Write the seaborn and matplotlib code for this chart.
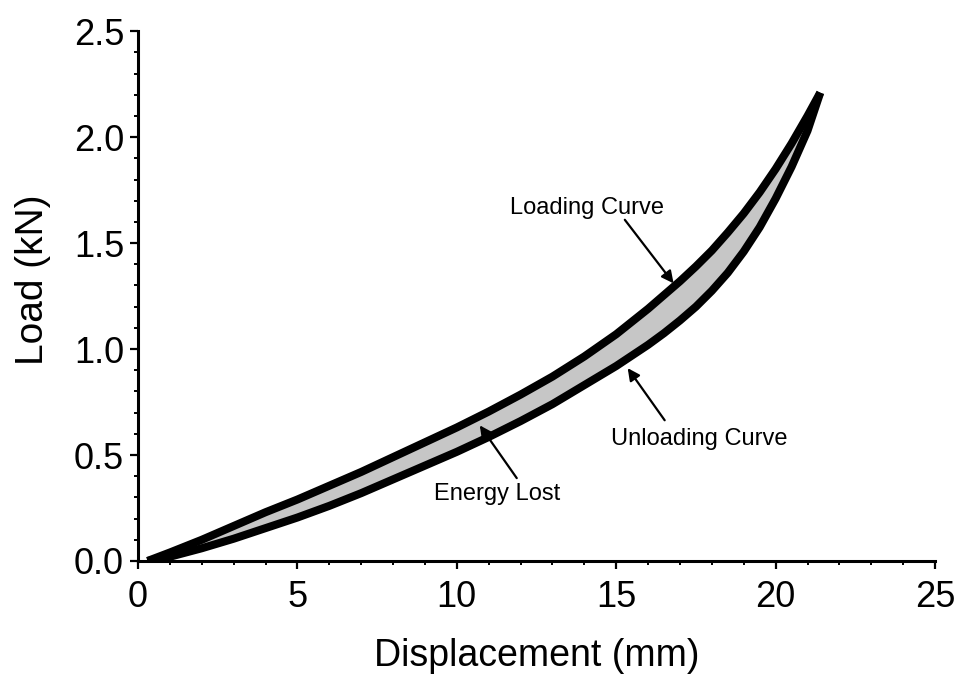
import numpy as np
import pandas as pd
import matplotlib
matplotlib.use("Agg")
import matplotlib.pyplot as plt
import seaborn as sns
from matplotlib.ticker import MultipleLocator

# Displacement (mm) and load (kN) along the loading and unloading paths
load_disp = [0.3, 1.0, 2.0, 3.0, 4.0, 5.0, 6.0, 7.0, 8.0, 9.0, 10.0, 11.0, 12.0, 13.0, 14.0,
             15.0, 15.5, 16.0, 16.5, 17.0, 17.5, 18.0, 18.5, 19.0, 19.5, 20.0, 20.5, 21.0, 21.4]
load_force = [0.00, 0.04, 0.10, 0.165, 0.23, 0.29, 0.355, 0.42, 0.49, 0.56, 0.63, 0.705, 0.785, 0.87, 0.965,
              1.07, 1.13, 1.19, 1.255, 1.32, 1.39, 1.465, 1.55, 1.64, 1.74, 1.85, 1.97, 2.10, 2.21]
unload_disp = [0.3, 1.0, 2.0, 3.0, 4.0, 5.0, 6.0, 7.0, 8.0, 9.0, 10.0, 11.0, 12.0, 13.0, 14.0,
               15.0, 15.5, 16.0, 16.5, 17.0, 17.5, 18.0, 18.5, 19.0, 19.5, 20.0, 20.5, 21.0, 21.4]
unload_force = [0.00, 0.02, 0.06, 0.105, 0.155, 0.205, 0.26, 0.32, 0.385, 0.45, 0.515, 0.585, 0.66, 0.74, 0.83,
                0.92, 0.97, 1.02, 1.075, 1.135, 1.20, 1.275, 1.36, 1.46, 1.575, 1.71, 1.86, 2.03, 2.21]

x_ticks = [0, 5, 10, 15, 20, 25]
y_ticks = [0.0, 0.5, 1.0, 1.5, 2.0, 2.5]

sns.set_theme(style="white", rc={"text.color": "black", "axes.labelcolor": "black",
                                 "xtick.color": "black", "ytick.color": "black"})
plt.rcParams["font.family"] = ["Liberation Sans", "DejaVu Sans"]

df = pd.concat([
    pd.DataFrame({"Displacement": load_disp, "Load": load_force, "path": "Loading"}),
    pd.DataFrame({"Displacement": unload_disp, "Load": unload_force, "path": "Unloading"}),
])

fig = plt.figure(figsize=(9.59, 6.78), dpi=100)
ax = fig.add_axes([0.1439, 0.1726, 0.8311, 0.7814])

# hysteresis area between the two paths
ax.fill_between(load_disp, load_force, unload_force, color="#c6c6c6", lw=0, zorder=1)

sns.lineplot(data=df, x="Displacement", y="Load", units="path", estimator=None,
             sort=False, color="black", lw=5.8, ax=ax, zorder=2,
             solid_capstyle="butt", solid_joinstyle="round")

ax.set_xlim(0, 25)
ax.set_ylim(0, 2.5)
ax.set_xticks(x_ticks)
ax.set_yticks(y_ticks)
ax.set_xticklabels([str(v) for v in x_ticks])
ax.set_yticklabels([f"{v:.1f}" for v in y_ticks])
ax.xaxis.set_minor_locator(MultipleLocator(1))
ax.yaxis.set_minor_locator(MultipleLocator(0.1))

for side in ["top", "right"]:
    ax.spines[side].set_visible(False)
for side in ["left", "bottom"]:
    ax.spines[side].set_linewidth(2.2)
    ax.spines[side].set_color("black")

ax.tick_params(which="major", direction="out", length=6, width=1.6, color="black",
               labelsize=26, pad=4, left=True, bottom=True)
ax.tick_params(which="minor", direction="out", length=3, width=1.4, color="black",
               left=True, bottom=True)
ax.tick_params(axis="x", which="major", pad=8)

ax.set_xlabel("Displacement (mm)", fontsize=27, labelpad=16)
ax.set_ylabel("Load (kN)", fontsize=28)
ax.yaxis.set_label_coords(-0.109, 0.53)

arrow = dict(arrowstyle="-|>", color="black", lw=1.6, mutation_scale=18,
             shrinkA=0, shrinkB=0)
ax.annotate("", xy=(16.80, 1.31), xytext=(15.27, 1.61), arrowprops=arrow)
ax.text(14.08, 1.668, "Loading Curve", fontsize=17, ha="center", va="center")
ax.annotate("", xy=(15.36, 0.91), xytext=(16.52, 0.664), arrowprops=arrow)
ax.text(17.62, 0.576, "Unloading Curve", fontsize=17, ha="center", va="center")
ax.annotate("", xy=(10.72, 0.64), xytext=(11.88, 0.391), arrowprops=arrow)
ax.text(11.25, 0.316, "Energy Lost", fontsize=17, ha="center", va="center")

fig.savefig("out.png", dpi=100)
